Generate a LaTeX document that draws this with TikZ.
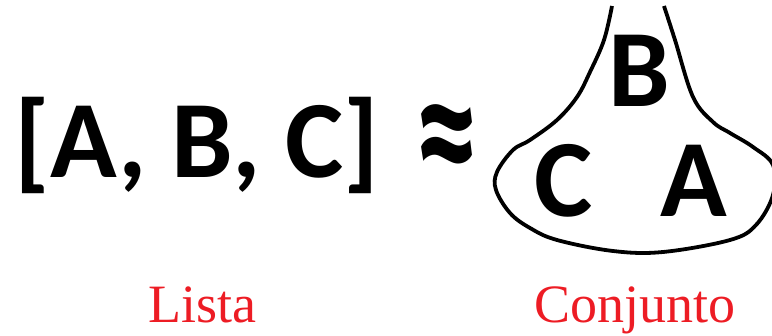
\documentclass[tikz,border=0pt]{standalone}
\usepackage{fontspec}
\setmainfont{Liberation Serif}
\newfontfamily\calfont{Carlito}
\usetikzlibrary{positioning}
\definecolor{setRed}{RGB}{237,28,36}
\tikzset{
  bigtext/.style={
    inner sep=0pt,
    anchor=base,
    font=\calfont\bfseries\fontsize{110}{120}\selectfont
  },
  elemtext/.style={
    bigtext
  },
  caption/.style={
    inner sep=0pt,
    anchor=base,
    text=setRed,
    font=\fontsize{54}{60}\selectfont
  },
  bagline/.style={
    draw=black,
    line width=3.8pt,
    line join=round
  }
}
\begin{document}
\begin{tikzpicture}[x=1pt,y=-1pt]
  \useasboundingbox (0,0) rectangle (772,336);

  % left side: the list
  \node[bigtext] (lista) at (197,178) {[A, B, C]};
  \node[bigtext, anchor=center] (approx) at (447,150) {\scalebox{1.15}[1.75]{≈}};

  % right side: the set, drawn as an open bag
  \draw[bagline] plot[smooth, tension=0.6] coordinates {
    (612,6) (604,40) (590,72) (577,97) (557,120) (530,140) (513,150)
    (497,172) (496,190) (510,213) (530,228) (557,240) (613,251)
    (663,252) (730,240) (756,225) (773,195) (773,165) (753,147)
    (730,133) (713,122) (693,97) (675,40) (664,6)
  };
  \node[elemtext] (elemB) at (639,107) {B};
  \node[elemtext] (elemC) at (564,217) {C};
  \node[elemtext] (elemA) at (694,217) {A};

  % captions
  \node[caption] (capL) at (202,323) {Lista};
  \node[caption] (capC) at (635,323) {Conjunto};
\end{tikzpicture}
\end{document}
